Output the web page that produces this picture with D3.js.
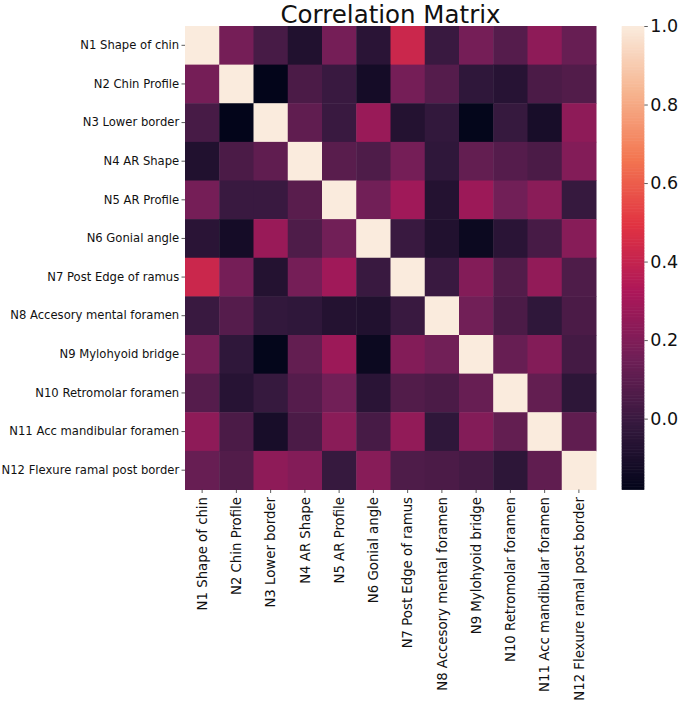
<!DOCTYPE html>
<html><head><meta charset="utf-8">
<script src="https://cdn.jsdelivr.net/npm/d3@7"></script>
<style>
body{margin:0;background:#fff;}
text{font-family:"DejaVu Sans",sans-serif;}
</style></head>
<body><svg id="c" width="685" height="702"></svg>
<script>
const labels = ["N1 Shape of chin","N2 Chin Profile","N3 Lower border","N4 AR Shape","N5 AR Profile","N6 Gonial angle","N7 Post Edge of ramus","N8 Accesory mental foramen","N9 Mylohyoid bridge","N10 Retromolar foramen","N11 Acc mandibular foramen","N12 Flexure ramal post border"];
const corr = [
 [1.00, 0.17, 0.04,-0.08, 0.17,-0.05, 0.42, 0.00, 0.17, 0.08, 0.24, 0.13],
 [0.17, 1.00,-0.18, 0.05, 0.00,-0.12, 0.17, 0.08,-0.03,-0.06, 0.05, 0.07],
 [0.04,-0.18, 1.00, 0.11, 0.00, 0.27,-0.07,-0.02,-0.175,-0.01,-0.11, 0.24],
 [-0.08,0.05, 0.11, 1.00, 0.09, 0.06, 0.17,-0.03, 0.12, 0.08, 0.05, 0.21],
 [0.17, 0.00, 0.00, 0.09, 1.00, 0.16, 0.29,-0.07, 0.28, 0.16, 0.23,-0.01],
 [-0.05,-0.12,0.27, 0.06, 0.16, 1.00, 0.00,-0.08,-0.15,-0.05, 0.04, 0.22],
 [0.42, 0.17,-0.07, 0.17, 0.29, 0.00, 1.00, 0.00, 0.21, 0.07, 0.25, 0.06],
 [0.00, 0.08,-0.02,-0.03,-0.07,-0.08, 0.00, 1.00, 0.16, 0.05,-0.03, 0.05],
 [0.17,-0.03,-0.175,0.12, 0.28,-0.15, 0.21, 0.16, 1.00, 0.13, 0.21, 0.03],
 [0.08,-0.06,-0.01, 0.08, 0.16,-0.05, 0.07, 0.05, 0.13, 1.00, 0.12,-0.04],
 [0.24, 0.05,-0.11, 0.05, 0.23, 0.04, 0.25,-0.03, 0.21, 0.12, 1.00, 0.11],
 [0.13, 0.07, 0.24, 0.21,-0.01, 0.22, 0.06, 0.05, 0.03,-0.04, 0.11, 1.00]
];
const cbTicks = [0.0, 0.2, 0.4, 0.6, 0.8, 1.0];
const vmin = -0.18, vmax = 1.0;
const rocketStops = ["#03051a","#35193e","#701f57","#ad1759","#e13342","#f37651","#f6b48f","#faebdd"];

const color = d3.scaleLinear()
  .domain(rocketStops.map((_, i) => vmin + (vmax - vmin) * i / (rocketStops.length - 1)))
  .range(rocketStops).interpolate(d3.interpolateRgb).clamp(true);

const svg = d3.select("#c");
const L = 185, R = 596, T = 26, B = 489.5;
const x = d3.scaleBand().domain(labels).range([L, R]).padding(0);
const y = d3.scaleBand().domain(labels).range([T, B]).padding(0);

const cells = [];
corr.forEach((row, i) => row.forEach((v, j) => cells.push({r: labels[i], c: labels[j], v})));
svg.append("g").selectAll("rect").data(cells).join("rect")
  .attr("x", d => x(d.c)).attr("y", d => y(d.r))
  .attr("width", x.bandwidth() + 0.5).attr("height", y.bandwidth() + 0.5)
  .attr("fill", d => color(d.v));

const ya = svg.append("g").attr("transform", `translate(${L},0)`)
  .call(d3.axisLeft(y).tickSize(3.5).tickPadding(2.3));
ya.select(".domain").remove();
ya.selectAll("text").attr("font-size", "11.6px").attr("fill", "#111").attr("font-family", "DejaVu Sans");
ya.selectAll("line").attr("stroke", "#333").attr("stroke-width", 0.8);

const xa = svg.append("g").attr("transform", `translate(0,${B})`)
  .call(d3.axisBottom(x).tickSize(3.5).tickPadding(2.5));
xa.select(".domain").remove();
xa.selectAll("line").attr("stroke", "#333").attr("stroke-width", 0.8);
xa.selectAll("text").attr("font-size", "13.3px").attr("fill", "#111").attr("font-family", "DejaVu Sans")
  .attr("text-anchor", "end").attr("transform", "rotate(-90)")
  .attr("x", -7.5).attr("y", 0).attr("dy", "0.35em");

// colorbar
const cbL = 621.7, cbW = 22.6, cbT = 26, cbB = 489.3;
const cy = d3.scaleLinear().domain([vmin, vmax]).range([cbB, cbT]);
const nSteps = 300;
const steps = d3.range(nSteps).map(i => vmin + (vmax - vmin) * (i + 0.5) / nSteps);
const dv = (vmax - vmin) / nSteps;
svg.append("g").selectAll("rect").data(steps).join("rect")
  .attr("x", cbL).attr("width", cbW)
  .attr("y", d => cy(d + dv / 2)).attr("height", d => cy(d - dv / 2) - cy(d + dv / 2) + 0.6)
  .attr("fill", d => color(d));
const ca = svg.append("g").attr("transform", `translate(${cbL + cbW},0)`)
  .call(d3.axisRight(cy).tickValues(cbTicks).tickFormat(d3.format(".1f")).tickSize(3.5).tickPadding(2.5));
ca.select(".domain").remove();
ca.selectAll("line").attr("stroke", "#333").attr("stroke-width", 0.8);
ca.selectAll("text").attr("font-size", "17.5px").attr("fill", "#111").attr("font-family", "DejaVu Sans");

svg.append("text").attr("x", (L + R) / 2).attr("y", 22.5).attr("text-anchor", "middle")
  .attr("font-size", "24.5px").attr("fill", "#111").text("Correlation Matrix");
</script></body></html>
